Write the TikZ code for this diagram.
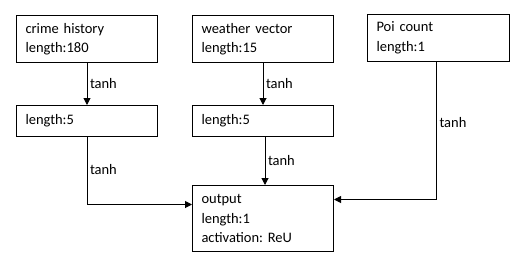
\documentclass[tikz,border=0pt]{standalone}
\usepackage{fontspec}
\setmainfont{Carlito}
\usetikzlibrary{arrows.meta}
\frenchspacing
\begin{document}
\begin{tikzpicture}[x=1pt,y=-1pt,
  font=\fontsize{14.5}{19.5}\selectfont,
  box/.style={draw, line width=1pt, minimum height=#1, inner xsep=9pt,
              text width=123pt, align=left, anchor=north west},
  box/.default=47pt,
  link/.style={line width=1pt, -{Triangle[length=7pt,width=7pt]}},
  lab/.style={right, inner sep=2.5pt}]
\useasboundingbox (0,0) rectangle (521,265);
% input layer
\node[box] (crime) at (16,15) {crime history\\length:180};
\node[box] (weather) at (192,15) {weather vector\\length:15};
\node[box, text width=124pt] (poi) at (367,14) {Poi count\\length:1};
% hidden layer
\node[box=31pt] (hcrime) at (16,105) {length:5};
\node[box=31pt] (hweather) at (192,105) {length:5};
% output layer
\node[box=66pt] (out) at (192,185) {output\\length:1\\activation: ReU};
% connectors
\draw[link] (crime.south) -- node[lab] {tanh} (hcrime.north);
\draw[link] (weather.south) -- node[lab] {tanh} (hweather.north);
\draw[link] ([xshift=2pt]hweather.south) -- node[lab] {tanh} ([xshift=2pt]out.north);
\draw[link] (hcrime.south) |- node[lab, pos=0.24] {tanh} ([yshift=14pt]out.west);
\draw[link] ([xshift=-2pt]poi.south) |- node[lab, pos=0.22] {tanh} ([yshift=19pt]out.east);
\end{tikzpicture}
\end{document}
